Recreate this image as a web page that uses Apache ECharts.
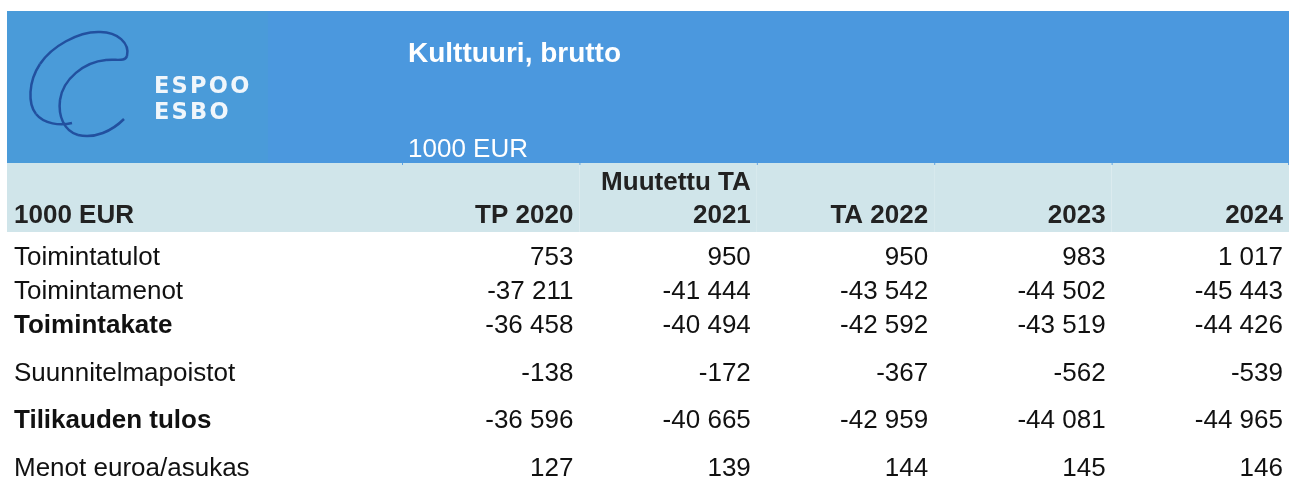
<!DOCTYPE html>
<html>
<head>
<meta charset="utf-8">
<script src="https://cdn.jsdelivr.net/npm/echarts@6/dist/echarts.min.js"></script>
<style>
  html, body { margin: 0; padding: 0; background: #fff; }
  #chart { width: 1296px; height: 479px; }
</style>
</head>
<body>
<div id="chart"></div>
<script>
// taulukon data
const columns = ['TP 2020', 'Muutettu TA\n2021', 'TA 2022', '2023', '2024'];
const rowLabels = ['Toimintatulot', 'Toimintamenot', 'Toimintakate', 'Suunnitelmapoistot', 'Tilikauden tulos', 'Menot euroa/asukas'];
const boldRows = ['Toimintakate', 'Tilikauden tulos'];
const tp2020 = [753, -37211, -36458, -138, -36596, 127];
const ta2021 = [950, -41444, -40494, -172, -40665, 139];
const ta2022 = [950, -43542, -42592, -367, -42959, 144];
const v2023 = [983, -44502, -43519, -562, -44081, 145];
const v2024 = [1017, -45443, -44426, -539, -44965, 146];
const unitLabel = '1000 EUR';
const chartTitle = 'Kulttuuri, brutto';

const valueCols = [tp2020, ta2021, ta2022, v2023, v2024];

// layout (y-akseli riviyksikoissa)
const PITCH = 34;
const Y_MAX = 316 / PITCH;
const headLineY = [20 / PITCH, 53 / PITCH];
const headBandH = 69 / PITCH;
const firstRowY = 95 / PITCH;
const rowStep = [0, 1, 1, 1.4, 1.4, 1.4];
const FONT = '"Liberation Sans", Arial, sans-serif';
const FS = 26;

function rowY(i) {
  let y = firstRowY;
  for (let k = 1; k <= i; k++) y += rowStep[k];
  return y;
}

function fmt(v) {
  const s = Math.abs(v).toString().replace(/\B(?=(\d{3})+(?!\d))/g, ' ');
  return (v < 0 ? '-' : '') + s;
}

const valueData = [];
valueCols.forEach((col, c) => {
  col.forEach((v, r) => valueData.push([c, r, v]));
});

// logon viiva (bezier-palat)
const logoCurves = [
  [124, 119, 112, 131, 95, 139, 78, 135],
  [78, 135, 64, 131, 58, 116, 60, 100],
  [60, 100, 63, 79, 84, 62, 106, 60],
  [106, 60, 117, 59, 125, 62, 127, 56],
  [127, 56, 130, 44, 118, 31, 98, 32],
  [98, 32, 78, 32, 52, 46, 40, 64],
  [40, 64, 28, 82, 28, 104, 36, 114],
  [36, 114, 44, 124, 60, 126, 72, 123]
];

const chart = echarts.init(document.getElementById('chart'), null, { renderer: 'canvas' });

const graphics = [
  { type: 'rect', shape: { x: 7, y: 11, width: 1282, height: 152 }, style: { fill: '#4B98DE' }, z: -10 },
  { type: 'rect', shape: { x: 7, y: 11, width: 261, height: 152 }, style: { fill: '#4A9BD9' }, z: -9 },
  {
    type: 'text', x: 154, y: 74, z: 1,
    style: { text: 'E\u200AS\u200AP\u200AO\u200AO\nE\u200AS\u200AB\u200AO', fill: '#F0F6FB', font: 'bold 22.5px "DejaVu Sans", sans-serif', lineHeight: 26 }
  }
];
logoCurves.forEach(b => {
  graphics.push({
    type: 'bezierCurve', z: 1,
    shape: { x1: b[0], y1: b[1], cpx1: b[2], cpy1: b[3], cpx2: b[4], cpy2: b[5], x2: b[6], y2: b[7] },
    style: { stroke: '#22509F', lineWidth: 2.5, fill: null }
  });
});

const option = {
  animation: false,
  backgroundColor: '#fff',
  title: [
    {
      text: chartTitle, left: 408, top: 40, padding: 0,
      textStyle: { color: '#fff', fontSize: 28, fontWeight: 'bold', fontFamily: FONT }
    },
    {
      text: unitLabel, left: 408, top: 137, padding: 0,
      textStyle: { color: '#fff', fontSize: FS, fontWeight: 'normal', fontFamily: FONT }
    }
  ],
  graphic: graphics,
  grid: [
    { left: 7, width: 395, top: 163, bottom: 0 },
    { left: 402, right: 7, top: 163, bottom: 0 }
  ],
  xAxis: [
    { type: 'category', gridIndex: 0, data: [unitLabel], show: false },
    { type: 'category', gridIndex: 1, data: columns, show: false }
  ],
  yAxis: [
    { type: 'value', gridIndex: 0, min: 0, max: Y_MAX, inverse: true, show: false },
    { type: 'value', gridIndex: 1, min: 0, max: Y_MAX, inverse: true, show: false }
  ],
  series: [
    {
      // rivien nimet + otsikkosolu
      type: 'custom', xAxisIndex: 0, yAxisIndex: 0, clip: false,
      data: [[0, -1]].concat(rowLabels.map((l, i) => [0, i])),
      renderItem: function (params, api) {
        const r = api.value(1);
        const bw = api.size([1, 0])[0];
        if (r < 0) {
          const p0 = api.coord([0, 0]);
          const p1 = api.coord([0, headBandH]);
          const p2 = api.coord([0, headLineY[1]]);
          return {
            type: 'group',
            children: [
              { type: 'rect', shape: { x: p0[0] - bw / 2, y: p0[1], width: bw, height: p1[1] - p0[1] }, style: { fill: '#D0E5EA' } },
              { type: 'text', style: { x: p0[0] - bw / 2 + 7, y: p2[1], text: unitLabel, fill: '#222', fontSize: FS, fontWeight: 'bold', fontFamily: FONT, align: 'left', verticalAlign: 'middle' } }
            ]
          };
        }
        const label = rowLabels[r];
        const p = api.coord([0, rowY(r)]);
        return {
          type: 'text',
          style: {
            x: p[0] - bw / 2 + 7, y: p[1], text: label, fill: '#111',
            fontSize: FS, fontWeight: boldRows.indexOf(label) >= 0 ? 'bold' : 'normal',
            fontFamily: FONT, align: 'left', verticalAlign: 'middle'
          }
        };
      }
    },
    {
      // sarakeotsikot
      type: 'custom', xAxisIndex: 1, yAxisIndex: 1, clip: false,
      data: columns.map((c, i) => [i]),
      renderItem: function (params, api) {
        const c = api.value(0);
        const bw = api.size([1, 0])[0];
        const p0 = api.coord([c, 0]);
        const p1 = api.coord([c, headBandH]);
        const right = p0[0] + bw / 2;
        const lines = columns[c].split('\n');
        const children = [
          { type: 'rect', shape: { x: p0[0] - bw / 2, y: p0[1], width: bw, height: p1[1] - p0[1] }, style: { fill: '#D0E5EA' } },
          { type: 'rect', shape: { x: p0[0] - bw / 2, y: p0[1], width: 1, height: 2 }, style: { fill: '#5FA3E2' } }
        ];
        if (c === columns.length - 1) {
          children.push({ type: 'rect', shape: { x: right - 1, y: p0[1], width: 1, height: 2 }, style: { fill: '#5FA3E2' } });
        }
        for (let k = 0; k < lines.length; k++) {
          const ly = headLineY[headLineY.length - lines.length + k];
          const p = api.coord([c, ly]);
          children.push({
            type: 'text',
            style: { x: right - 6, y: p[1], text: lines[k], fill: '#222', fontSize: FS, fontWeight: 'bold', fontFamily: FONT, align: 'right', verticalAlign: 'middle' }
          });
        }
        return { type: 'group', children: children };
      }
    },
    {
      // arvot
      type: 'custom', xAxisIndex: 1, yAxisIndex: 1, clip: false, z: 3,
      data: valueData,
      renderItem: function (params, api) {
        const c = api.value(0);
        const r = api.value(1);
        const v = api.value(2);
        const bw = api.size([1, 0])[0];
        const p = api.coord([c, rowY(r)]);
        return {
          type: 'text',
          style: {
            x: p[0] + bw / 2 - 6, y: p[1], text: fmt(v), fill: '#111',
            fontSize: FS, fontFamily: FONT, align: 'right', verticalAlign: 'middle'
          }
        };
      }
    }
  ]
};

chart.setOption(option);
</script>
</body>
</html>
